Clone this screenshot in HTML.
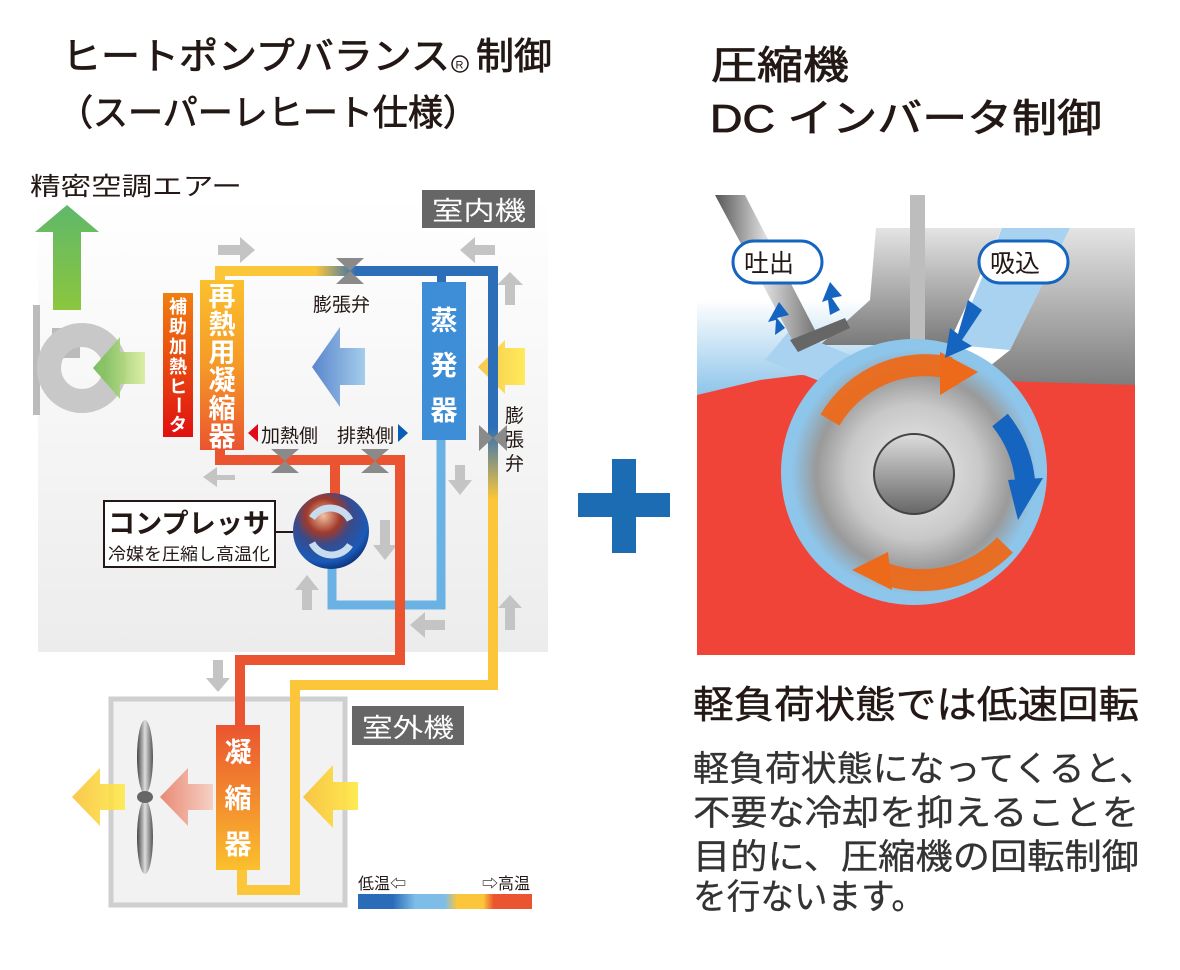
<!DOCTYPE html>
<html><head><meta charset="utf-8"><style>
html,body{margin:0;padding:0;background:#fff;}
svg{display:block;font-family:"Liberation Sans","Noto Sans CJK JP",sans-serif;}
</style></head><body>
<svg width="1180" height="970" viewBox="0 0 1180 970" xmlns="http://www.w3.org/2000/svg">
<defs>
<linearGradient id="bgIn" x1="0" y1="0" x2="0" y2="1"><stop offset="0" stop-color="#fff"/><stop offset="1" stop-color="#ececec"/></linearGradient>
<linearGradient id="grn" x1="0" y1="0" x2="0" y2="1"><stop offset="0" stop-color="#5fb86a"/><stop offset="1" stop-color="#8cc63e"/></linearGradient>
<linearGradient id="grnL" x1="0" y1="0" x2="1" y2="0"><stop offset="0" stop-color="#6ab64a"/><stop offset="1" stop-color="#d8ec9a"/></linearGradient>
<linearGradient id="heat" x1="0" y1="0" x2="0" y2="1"><stop offset="0" stop-color="#f08010"/><stop offset="1" stop-color="#e01010"/></linearGradient>
<linearGradient id="reh" x1="0" y1="0" x2="0" y2="1"><stop offset="0" stop-color="#fbc02d"/><stop offset="0.5" stop-color="#f59a28"/><stop offset="1" stop-color="#ea5430"/></linearGradient>
<linearGradient id="cond" x1="0" y1="0" x2="0" y2="1"><stop offset="0" stop-color="#ea5430"/><stop offset="1" stop-color="#fbc02d"/></linearGradient>
<linearGradient id="topPipe" x1="0" y1="0" x2="1" y2="0"><stop offset="0" stop-color="#fbc63a"/><stop offset="0.35" stop-color="#fbc63a"/><stop offset="0.5" stop-color="#2c6eb8"/><stop offset="1" stop-color="#2c6eb8"/></linearGradient>
<linearGradient id="rPipe" x1="0" y1="0" x2="0" y2="1"><stop offset="0" stop-color="#2c6eb8"/><stop offset="0.38" stop-color="#2c6eb8"/><stop offset="0.55" stop-color="#fbc63a"/><stop offset="1" stop-color="#fbc63a"/></linearGradient>
<linearGradient id="bArr" x1="0" y1="0" x2="1" y2="0"><stop offset="0" stop-color="#5a86cc"/><stop offset="1" stop-color="#a4cceb"/></linearGradient>
<linearGradient id="yArr" x1="0" y1="0" x2="1" y2="0"><stop offset="0" stop-color="#f8c23a"/><stop offset="1" stop-color="#ffe94a"/></linearGradient>
<linearGradient id="pArr" x1="0" y1="0" x2="1" y2="0"><stop offset="0" stop-color="#e98a74"/><stop offset="1" stop-color="#f6d0c4"/></linearGradient>
<linearGradient id="legend" x1="0" y1="0" x2="1" y2="0"><stop offset="0" stop-color="#2a6cb8"/><stop offset="0.2" stop-color="#2a6cb8"/><stop offset="0.33" stop-color="#7ebde8"/><stop offset="0.5" stop-color="#7ebde8"/><stop offset="0.57" stop-color="#fbc63a"/><stop offset="0.72" stop-color="#fbc63a"/><stop offset="0.78" stop-color="#ea5430"/><stop offset="1" stop-color="#ea5430"/></linearGradient>
<radialGradient id="ball" cx="0.4" cy="0.3" r="0.75"><stop offset="0" stop-color="#f4c0a0"/><stop offset="0.3" stop-color="#a03a2a"/><stop offset="0.5" stop-color="#3a4a8a"/><stop offset="0.8" stop-color="#1a5ab8"/><stop offset="1" stop-color="#0a2a70"/></radialGradient>
<linearGradient id="blade" x1="0" y1="0" x2="1" y2="0"><stop offset="0" stop-color="#444"/><stop offset="0.5" stop-color="#ddd"/><stop offset="1" stop-color="#555"/></linearGradient>
<linearGradient id="grayBlk" x1="0" y1="0" x2="0" y2="1"><stop offset="0" stop-color="#e4e4e4"/><stop offset="1" stop-color="#7a7a7a"/></linearGradient>
<linearGradient id="ltBlue" x1="0" y1="0" x2="0" y2="1"><stop offset="0" stop-color="#ffffff"/><stop offset="1" stop-color="#8ec5ea"/></linearGradient>
<radialGradient id="disc" cx="0.5" cy="0.5" r="0.5"><stop offset="0" stop-color="#eee"/><stop offset="0.55" stop-color="#c8c8c8"/><stop offset="0.8" stop-color="#9a9a9a"/><stop offset="1" stop-color="#8ec5ea"/></radialGradient>
<linearGradient id="hub" x1="0" y1="0" x2="0" y2="1"><stop offset="0" stop-color="#ddd"/><stop offset="1" stop-color="#666"/></linearGradient>
<linearGradient id="rod" x1="0" y1="0" x2="1" y2="0"><stop offset="0" stop-color="#555"/><stop offset="0.5" stop-color="#ddd"/><stop offset="1" stop-color="#777"/></linearGradient>
</defs>

<!-- Titles -->
<g fill="#231815" stroke="#231815" stroke-width="0.8">
<text x="62" y="69" font-size="37" textLength="388" lengthAdjust="spacingAndGlyphs">ヒートポンプバランス</text>
<text x="476" y="69" font-size="37" textLength="76" lengthAdjust="spacingAndGlyphs">制御</text>
<text x="58" y="125" font-size="36" textLength="420" lengthAdjust="spacingAndGlyphs">（スーパーレヒート仕様）</text>
<text x="711" y="79" font-size="39" textLength="138" lengthAdjust="spacingAndGlyphs">圧縮機</text>
<text x="710" y="132" font-size="39" textLength="392" lengthAdjust="spacingAndGlyphs">DC インバータ制御</text>
</g>
<circle cx="460" cy="64" r="8" fill="none" stroke="#231815" stroke-width="1.5"/>
<text x="455.5" y="68.5" font-size="11" fill="#231815">R</text>

<!-- Indoor bg -->
<rect x="38" y="195" width="510" height="457" fill="url(#bgIn)"/>
<text x="30" y="195" font-size="25" fill="#231815" textLength="212" lengthAdjust="spacingAndGlyphs">精密空調エアー</text>
<rect x="422" y="190" width="113" height="38" fill="#666"/>
<text x="432" y="220" font-size="26" fill="#fff" textLength="94" lengthAdjust="spacingAndGlyphs">室内機</text>

<polygon points="53,310 81,310 81,232 99,232 67,205 35,232 53,232" fill="url(#grn)"/>
<rect x="33" y="305" width="7" height="110" fill="#bbb"/>
<rect x="52" y="328" width="28" height="30" fill="#bbb"/>
<circle cx="82" cy="368" r="33" fill="none" stroke="#c8c8c8" stroke-width="24"/>
<polygon points="145,352 120,352 120,337 93,368 120,399 120,384 145,384" fill="url(#grnL)" opacity="0.9"/>

<g fill="#c4c4c4">
<polygon points="218,245 240,245 240,237 255,250 240,263 240,255 218,255"/>
<polygon points="495,245 475,245 475,237 460,250 475,263 475,255 495,255"/>
<polygon points="505,305 515,305 515,285 523,285 510,272 497,285 505,285"/>
<polygon points="235,475 217,475 217,467 203,477 217,487 217,480 235,480"/>
<polygon points="455,465 465,465 465,480 472,480 460,495 448,480 455,480"/>
<polygon points="380,520 390,520 390,545 397,545 385,560 373,545 380,545"/>
<polygon points="302,610 312,610 312,590 319,590 307,575 295,590 302,590"/>
<polygon points="445,620 425,620 425,612 410,625 425,638 425,630 445,630"/>
<polygon points="505,630 515,630 515,608 522,608 510,595 498,608 505,608"/>
<polygon points="213,660 223,660 223,678 230,678 218,692 206,678 213,678"/>
<polygon points="305,898 315,898 315,880 322,880 310,866 298,880 305,880"/>
</g>

<polygon points="365,348 340,348 340,327 312,367 340,407 340,385 365,385" fill="url(#bArr)"/>
<polygon points="525,348 505,348 505,340 478,367 505,394 505,385 525,385" fill="url(#yArr)" opacity="0.9"/>

<path d="M220,282 V271 H493 V270" fill="none" stroke="url(#topPipe)" stroke-width="10"/>
<rect x="488" y="266" width="10" height="424" fill="url(#rPipe)"/>
<rect x="437" y="270" width="9" height="15" fill="#2c6eb8"/>
<path d="M441,440 V605 H332 V565" fill="none" stroke="#6ab2e4" stroke-width="9"/>
<path d="M220,448 V460 H400 V660 H240 V725" fill="none" stroke="#ea5430" stroke-width="10"/>
<path d="M335,460 V495" fill="none" stroke="#ea5430" stroke-width="10"/>
<path d="M493,685 H295 V890 H242 V870" fill="none" stroke="#fbc63a" stroke-width="10"/>

<g fill="#8a8a8a">
<polygon points="336,258 364,258 350,271 364,284 336,284 350,271"/>
<polygon points="271,449 299,449 285,461 299,473 271,473 285,461"/>
<polygon points="361,449 389,449 375,461 389,473 361,473 375,461"/>
<polygon points="479,425 479,451 493,438 507,451 507,425 493,438"/>
</g>
<text x="313" y="311" font-size="19" fill="#231815">膨張弁</text>
<g font-size="19" fill="#231815"><text x="505" y="422">膨</text><text x="505" y="446">張</text><text x="505" y="470">弁</text></g>

<rect x="163" y="293" width="30" height="144" fill="url(#heat)"/>
<g font-size="18" font-weight="bold" fill="#fff" text-anchor="middle">
<text x="178" y="313">補</text><text x="178" y="333">助</text><text x="178" y="353">加</text><text x="178" y="373">熱</text><text x="178" y="393">ヒ</text><text x="178" y="411" transform="rotate(90,178,405)">ー</text><text x="178" y="431">タ</text>
</g>
<rect x="200" y="280" width="44" height="170" fill="url(#reh)"/>
<g font-size="27" font-weight="bold" fill="#fff" text-anchor="middle">
<text x="222" y="306">再</text><text x="222" y="334">熱</text><text x="222" y="362">用</text><text x="222" y="390">凝</text><text x="222" y="418">縮</text><text x="222" y="446">器</text>
</g>
<rect x="422" y="282" width="44" height="158" fill="#3d8ed6"/>
<g font-size="27" font-weight="bold" fill="#fff" text-anchor="middle">
<text x="444" y="330">蒸</text><text x="444" y="375">発</text><text x="444" y="420">器</text>
</g>
<polygon points="258,424 258,442 248,433" fill="#e00a1a"/>
<text x="261" y="442" font-size="19" fill="#231815">加熱側</text>
<text x="337" y="442" font-size="19" fill="#231815">排熱側</text>
<polygon points="398,424 398,442 408,433" fill="#0a5cb4"/>

<circle cx="331" cy="531" r="38" fill="url(#ball)"/>
<path d="M312,518 A22,22 0 0 1 350,520" fill="none" stroke="#c8dcf0" stroke-width="7"/>
<path d="M350,545 A22,22 0 0 1 312,543" fill="none" stroke="#c8dcf0" stroke-width="7"/>
<line x1="275" y1="532" x2="293" y2="532" stroke="#231815" stroke-width="2"/>
<rect x="104" y="501" width="171" height="66" fill="#fff" stroke="#231815" stroke-width="2"/>
<text x="108" y="533" font-size="27" font-weight="bold" fill="#231815" textLength="162" lengthAdjust="spacingAndGlyphs">コンプレッサ</text>
<text x="108" y="560" font-size="17" fill="#231815" textLength="162" lengthAdjust="spacingAndGlyphs">冷媒を圧縮し高温化</text>

<rect x="111" y="699" width="234" height="206" fill="#f2f2f2" stroke="#cfcfcf" stroke-width="5"/>
<path d="M240,658 V725" stroke="#ea5430" stroke-width="10"/>
<path d="M295,685 V890 H242 V870" fill="none" stroke="#fbc63a" stroke-width="10"/>
<rect x="352" y="706" width="112" height="39" fill="#666"/>
<text x="362" y="737" font-size="26" fill="#fff" textLength="92" lengthAdjust="spacingAndGlyphs">室外機</text>
<rect x="216" y="725" width="44" height="145" fill="url(#cond)"/>
<g font-size="27" font-weight="bold" fill="#fff" text-anchor="middle">
<text x="238" y="762">凝</text><text x="238" y="808">縮</text><text x="238" y="854">器</text>
</g>
<ellipse cx="145" cy="757" rx="8" ry="37" fill="url(#blade)"/>
<ellipse cx="145" cy="837" rx="8" ry="37" fill="url(#blade)"/>
<ellipse cx="145" cy="797" rx="8" ry="6" fill="#666"/>
<polygon points="125,784 100,784 100,768 72,797 100,826 100,810 125,810" fill="url(#yArr)" opacity="0.9"/>
<polygon points="213,784 188,784 188,768 160,797 188,826 188,810 213,810" fill="url(#pArr)"/>
<polygon points="358,782 333,782 333,765 303,797 333,828 333,810 358,810" fill="url(#yArr)" opacity="0.95"/>
<text x="358" y="889" font-size="16" fill="#231815">低温⇦</text>
<text x="482" y="889" font-size="16" fill="#231815">⇨高温</text>
<rect x="358" y="894" width="174" height="15" fill="url(#legend)"/>

<rect x="578" y="493" width="92" height="24" fill="#1c6cb4"/>
<rect x="612" y="459" width="24" height="94" fill="#1c6cb4"/>

<!-- right illustration -->
<rect x="697" y="300" width="190" height="95" fill="url(#ltBlue)"/>
<polygon points="876,228 1002,228 948,345 870,345 820,345 870,300" fill="url(#grayBlk)"/>
<polygon points="1070,228 1135,228 1135,390 960,390 1010,350" fill="url(#grayBlk)"/>
<polygon points="1002,228 1070,228 1010,350 955,345" fill="#a8d2ef"/>
<polygon points="697,395 760,380 800,375 1135,385 1135,655 697,655" fill="#f04438"/>
<polygon points="765,360 790,330 850,355 830,385" fill="#a8d2ef"/>
<polygon points="715,195 745,195 815,330 795,345" fill="url(#rod)"/>
<polygon points="790,340 845,318 850,328 798,352" fill="#666"/>
<rect x="910" y="195" width="15" height="155" fill="#bdbdbd"/>
<circle cx="914" cy="472" r="133" fill="#8ec5ea"/>
<circle cx="914" cy="472" r="122" fill="url(#disc)"/>
<circle cx="914" cy="474" r="40" fill="url(#hub)" stroke="#444" stroke-width="2"/>
<path d="M830,420 A110,110 0 0 1 950,368" fill="none" stroke="#ec6a1a" stroke-width="22" opacity="0.95"/>
<polygon points="940,352 978,372 940,395" fill="#ec6a1a"/>
<path d="M1000,420 A115,115 0 0 1 1025,480" fill="none" stroke="#1565c0" stroke-width="20"/>
<polygon points="1008,480 1043,478 1018,520" fill="#1565c0"/>
<path d="M1005,545 A115,115 0 0 1 880,572" fill="none" stroke="#ec6a1a" stroke-width="22" opacity="0.95"/>
<polygon points="888,552 852,570 892,590" fill="#ec6a1a"/>
<polygon points="968,300 982,310 962,340 972,346 945,358 950,328 958,334" fill="#1565c0"/>
<polygon points="775,335 785,328 777,318 789,315 779,302 768,322 776,320" fill="#1565c0"/>
<polygon points="830,315 840,310 832,298 842,296 830,282 822,302 828,300" fill="#1565c0"/>
<rect x="733" y="241" width="89" height="42" rx="21" fill="#fff" stroke="#1565c0" stroke-width="3"/>
<text x="744" y="272" font-size="25" fill="#231815">吐出</text>
<rect x="979" y="241" width="89" height="42" rx="21" fill="#fff" stroke="#1565c0" stroke-width="3"/>
<text x="990" y="272" font-size="25" fill="#231815">吸込</text>

<text x="693" y="718" font-size="38" fill="#231815" stroke="#231815" stroke-width="0.5" textLength="446" lengthAdjust="spacingAndGlyphs">軽負荷状態では低速回転</text>
<g font-size="35" fill="#333" stroke="#333" stroke-width="0.3">
<text x="693" y="781" textLength="462" lengthAdjust="spacingAndGlyphs">軽負荷状態になってくると、</text>
<text x="693" y="825" textLength="446" lengthAdjust="spacingAndGlyphs">不要な冷却を抑えることを</text>
<text x="693" y="869" textLength="446" lengthAdjust="spacingAndGlyphs">目的に、圧縮機の回転制御</text>
<text x="693" y="909" textLength="232" lengthAdjust="spacingAndGlyphs">を行ないます。</text>
</g>
</svg>
</body></html>
